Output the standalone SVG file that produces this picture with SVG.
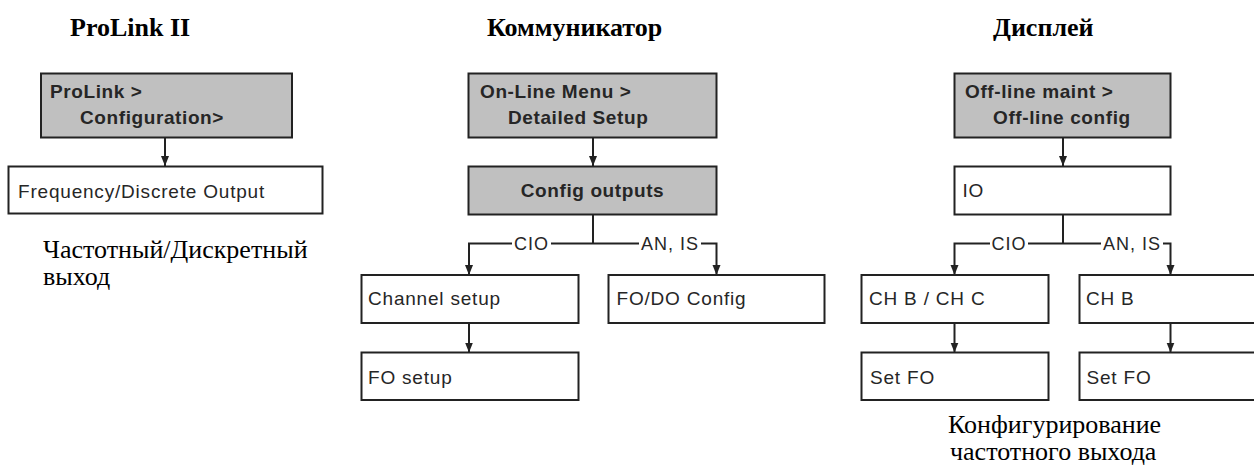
<svg xmlns="http://www.w3.org/2000/svg" width="1254" height="467" viewBox="0 0 1254 467">
<style>
.box{fill:#ffffff;stroke:#222222;stroke-width:2}
.hdr{fill:#c0c0c0;stroke:#222222;stroke-width:2}
.t{font-family:"Liberation Sans",Arial,sans-serif;font-size:19px;letter-spacing:0.8px;fill:#262626}
.tb{font-family:"Liberation Sans",Arial,sans-serif;font-size:19px;font-weight:bold;letter-spacing:0.6px;fill:#262626}
.lbl{font-family:"Liberation Sans",Arial,sans-serif;font-size:18px;letter-spacing:1px;fill:#262626}
.title{font-family:"Liberation Serif","Times New Roman",serif;font-size:26px;font-weight:bold;fill:#000000}
.cap{font-family:"Liberation Serif","Times New Roman",serif;font-size:26px;fill:#000000}
.ln{fill:none;stroke:#222222;stroke-width:2}
</style>
<defs>
<marker id="arr" markerUnits="userSpaceOnUse" markerWidth="10" markerHeight="10" viewBox="0 0 10 10" refX="10" refY="5" orient="auto">
<path d="M0,1 L10,5 L0,9 Z" fill="#222222"/>
</marker>
</defs>

<g id="titles">
<text class="title" x="70" y="36">ProLink II</text>
<text class="title" x="487" y="36">Коммуникатор</text>
<text class="title" x="993" y="36">Дисплей</text>
</g>

<g id="connectors">
<path class="ln" d="M165,137.5 V166" marker-end="url(#arr)"/>
<path class="ln" d="M593,137.5 V166" marker-end="url(#arr)"/>
<path class="ln" d="M593,214.5 V243.5"/>
<path class="ln" d="M512,243.5 H469 V275" marker-end="url(#arr)"/>
<path class="ln" d="M551,243.5 H639"/>
<path class="ln" d="M701,243.5 H716.5 V275" marker-end="url(#arr)"/>
<path class="ln" d="M469,323 V352.5" marker-end="url(#arr)"/>
<path class="ln" d="M1063,137.5 V166" marker-end="url(#arr)"/>
<path class="ln" d="M1063,214.5 V243.5"/>
<path class="ln" d="M990,243.5 H954.5 V275" marker-end="url(#arr)"/>
<path class="ln" d="M1028,243.5 H1101"/>
<path class="ln" d="M1163,243.5 H1170.5 V275" marker-end="url(#arr)"/>
<path class="ln" d="M954.5,323 V352.5" marker-end="url(#arr)"/>
<path class="ln" d="M1170.5,323 V352.5" marker-end="url(#arr)"/>
<text class="lbl" x="531.5" y="250" text-anchor="middle">CIO</text>
<text class="lbl" x="670" y="250" text-anchor="middle">AN, IS</text>
<text class="lbl" x="1009" y="250" text-anchor="middle">CIO</text>
<text class="lbl" x="1132" y="250" text-anchor="middle">AN, IS</text>
</g>

<g id="prolink-menu">
<rect class="hdr" x="41" y="73.5" width="251" height="64"/>
<text class="tb" x="50" y="97.5">ProLink &gt;</text>
<text class="tb" x="80" y="123.5">Configuration&gt;</text>
</g>
<g id="freq-output">
<rect class="box" x="8.5" y="166.5" width="314" height="47"/>
<text class="t" x="18" y="197.5">Frequency/Discrete Output</text>
</g>
<g id="prolink-caption">
<text class="cap" x="43" y="258">Частотный/Дискретный</text>
<text class="cap" x="43" y="285">выход</text>
</g>

<g id="online-menu">
<rect class="hdr" x="468.5" y="73.5" width="248" height="64"/>
<text class="tb" x="480" y="97.5">On-Line Menu &gt;</text>
<text class="tb" x="508" y="123.5">Detailed Setup</text>
</g>
<g id="config-outputs">
<rect class="hdr" x="468.5" y="166.5" width="248" height="48"/>
<text class="tb" x="592.5" y="197" text-anchor="middle">Config outputs</text>
</g>
<g id="channel-setup">
<rect class="box" x="361.5" y="275" width="217" height="48"/>
<text class="t" x="368" y="304.5">Channel setup</text>
</g>
<g id="fodo-config">
<rect class="box" x="608.5" y="275" width="216" height="48"/>
<text class="t" x="616.5" y="304.5">FO/DO Config</text>
</g>
<g id="fo-setup">
<rect class="box" x="361.5" y="352.5" width="217" height="47.5"/>
<text class="t" x="368" y="383.5">FO setup</text>
</g>

<g id="offline-menu">
<rect class="hdr" x="954.5" y="73.5" width="216" height="64"/>
<text class="tb" x="965" y="97.5">Off-line maint &gt;</text>
<text class="tb" x="993" y="123.5">Off-line config</text>
</g>
<g id="io">
<rect class="box" x="954.5" y="166.5" width="216" height="48"/>
<text class="t" x="962.5" y="197">IO</text>
</g>
<g id="chb-chc">
<rect class="box" x="861.5" y="275" width="187" height="48"/>
<text class="t" x="869" y="304.5">CH B / CH C</text>
</g>
<g id="chb">
<rect class="box" x="1079.5" y="275" width="200" height="48"/>
<text class="t" x="1086" y="304.5">CH B</text>
</g>
<g id="set-fo-1">
<rect class="box" x="861.5" y="352.5" width="187" height="47.5"/>
<text class="t" x="870" y="383.5">Set FO</text>
</g>
<g id="set-fo-2">
<rect class="box" x="1079.5" y="352.5" width="200" height="47.5"/>
<text class="t" x="1086.5" y="383.5">Set FO</text>
</g>
<g id="display-caption">
<text class="cap" x="948" y="433">Конфигурирование</text>
<text class="cap" x="950" y="459.5">частотного выхода</text>
</g>
</svg>
